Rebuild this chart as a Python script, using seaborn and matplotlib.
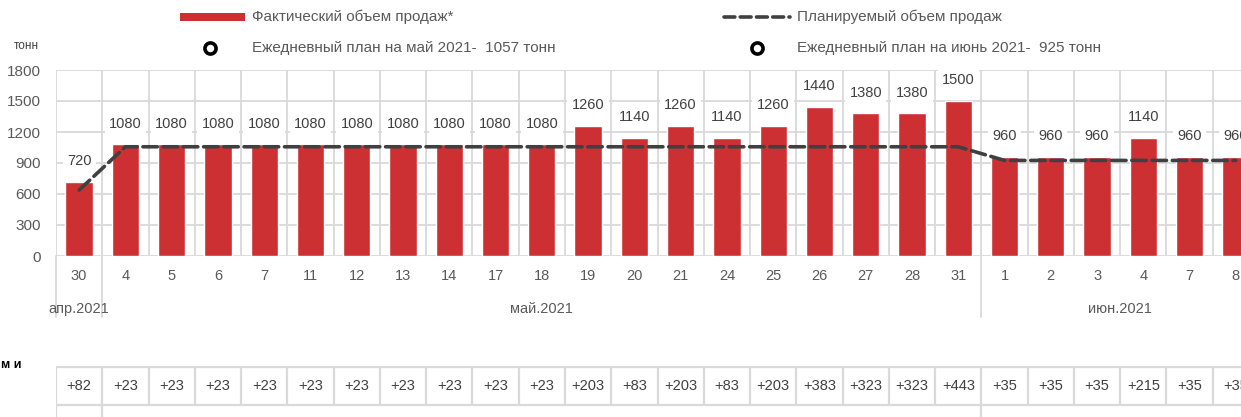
import numpy as np
import pandas as pd
import matplotlib
matplotlib.use("Agg")
import matplotlib.pyplot as plt
import matplotlib.transforms as mtransforms
from matplotlib.lines import Line2D
from matplotlib.patches import Rectangle
import seaborn as sns

# ---------------- data ----------------
keys = ["04-30", "05-04", "05-05", "05-06", "05-07", "05-11", "05-12", "05-13", "05-14",
        "05-17", "05-18", "05-19", "05-20", "05-21", "05-24", "05-25", "05-26", "05-27",
        "05-28", "05-31", "06-01", "06-02", "06-03", "06-04", "06-07", "06-08"]
day_labels = ["30", "4", "5", "6", "7", "11", "12", "13", "14", "17", "18", "19", "20",
              "21", "24", "25", "26", "27", "28", "31", "1", "2", "3", "4", "7", "8"]
fact = [720, 1080, 1080, 1080, 1080, 1080, 1080, 1080, 1080, 1080, 1080, 1260, 1140,
        1260, 1140, 1260, 1440, 1380, 1380, 1500, 960, 960, 960, 1140, 960, 960]
plan = [638, 1057, 1057, 1057, 1057, 1057, 1057, 1057, 1057, 1057, 1057, 1057, 1057,
        1057, 1057, 1057, 1057, 1057, 1057, 1057, 925, 925, 925, 925, 925, 925]
deviation = ["+82", "+23", "+23", "+23", "+23", "+23", "+23", "+23", "+23", "+23", "+23",
             "+203", "+83", "+203", "+83", "+203", "+383", "+323", "+323", "+443",
             "+35", "+35", "+35", "+215", "+35", "+35"]
months = ["апр.2021", "май.2021", "июн.2021"]
month_counts = [1, 19, 6]
y_ticks = [0, 300, 600, 900, 1200, 1500, 1800]

legend_fact = "Фактический объем продаж*"
legend_plan = "Планируемый объем продаж"
legend_may = "Ежедневный план на май 2021-  1057 тонн"
legend_june = "Ежедневный план на июнь 2021-  925 тонн"

# ---------------- style ----------------
sns.set_theme(style="white")
plt.rcParams["font.family"] = ["Liberation Sans", "DejaVu Sans"]

BAR = "#CD3033"
GRID = "#D9D9D9"
TXT = "#595959"
DARK = "#404040"

W, H = 1241, 417
fig = plt.figure(figsize=(W / 100, H / 100), dpi=100)
fig.patch.set_facecolor("white")

def fx(px):
    return px / W

def fy(py):
    return 1 - py / H

ax_left, ax_right = 56, 1259
ax_top, ax_bottom = 70, 256
ax = fig.add_axes([fx(ax_left), 1 - ax_bottom / H, (ax_right - ax_left) / W, (ax_bottom - ax_top) / H])

df = pd.DataFrame({"key": keys, "fact": fact})
n = len(keys)

sns.barplot(data=df, x="key", y="fact", order=keys, color=BAR, saturation=1,
            width=0.59, ax=ax, zorder=2)
sns.lineplot(x=np.arange(n), y=plan, ax=ax, color=DARK, lw=2.6,
             linestyle=(0, (4, 1.6)), zorder=4, solid_capstyle="round",
             dash_capstyle="round")

ax.set_xlim(-0.5, n - 0.5)
ax.set_ylim(0, 1800)
ax.set_yticks(y_ticks)
ax.set_xticks(np.arange(n))
ax.set_xticklabels(day_labels)
ax.set_xlabel("")
ax.set_ylabel("")
ax.tick_params(axis="x", length=0, pad=9, labelsize=10.5, colors=TXT)
ax.tick_params(axis="y", length=0, pad=11, labelsize=11, colors=TXT)
for s in ax.spines.values():
    s.set_visible(False)

# grid lines
ax.set_axisbelow(True)
ax.yaxis.grid(True, color=GRID, lw=1.3, zorder=0)
ax.vlines(np.arange(-0.5, n), 0, 1800, color=GRID, lw=1.3, zorder=0)

# month separators extending below axis & month labels
trans = mtransforms.blended_transform_factory(ax.transData, ax.transAxes)
bounds = [-0.5]
for c in month_counts:
    bounds.append(bounds[-1] + c)
low = -(317 - ax_bottom) / (ax_bottom - ax_top)
for b in bounds[:-1]:
    ax.add_line(Line2D([b, b], [low, 0], transform=trans, color=GRID, lw=1.3, clip_on=False, zorder=0))
lab_y = -(309 - ax_bottom) / (ax_bottom - ax_top)
for m, a, b in zip(months, bounds[:-1], bounds[1:]):
    ax.text((a + b) / 2, lab_y, m, transform=trans, ha="center", va="center",
            fontsize=10.5, color=TXT)

# data labels
for i, v in enumerate(fact):
    ax.annotate(str(v), (i, v), xytext=(0, 15), textcoords="offset points",
                ha="center", va="center", fontsize=10.5, color=DARK, zorder=5,
                bbox=dict(boxstyle="square,pad=0.3", fc="white", ec="none"))

# ---------------- table below ----------------
t_top, t_mid = 366, 405
tax = fig.add_axes([fx(ax_left), 0, (ax_right - ax_left) / W, (H - t_top) / H])
tax.set_xlim(-0.5, n - 0.5)
tax.set_ylim(0, 1)
tax.axis("off")
mid = (H - t_mid) / (H - t_top)
tax.hlines([0.985, mid], -0.5, n - 0.5, color=GRID, lw=1.6)
tax.vlines(np.arange(-0.5, n), mid, 0.985, color=GRID, lw=1.6)
tax.vlines(bounds[:-1], 0, mid, color=GRID, lw=1.6)
for i, d in enumerate(deviation):
    tax.text(i, (0.985 + mid) / 2, d, ha="center", va="center", fontsize=10.5, color=DARK)

fig.text(fx(1), fy(365), "м и", ha="left", va="center", fontsize=9, fontweight="bold", color="black")
fig.text(fx(26), fy(46), "тонн", ha="center", va="center", fontsize=8.5, color=DARK)

# ---------------- legend ----------------
fig.add_artist(Rectangle((fx(180), fy(20.5)), 65 / W, 7 / H, transform=fig.transFigure,
                         color=BAR, lw=0))
fig.text(fx(252), fy(17), legend_fact, ha="left", va="center", fontsize=11, color=TXT)
fig.add_artist(Line2D([fx(724), fx(790)], [fy(17), fy(17)], transform=fig.transFigure,
                      color=DARK, lw=2.6, linestyle=(0, (3, 1.5)), dash_capstyle="round"))
fig.text(fx(797), fy(17), legend_plan, ha="left", va="center", fontsize=11, color=TXT)
for mx, tx, label in [(210, 252, legend_may), (757, 797, legend_june)]:
    fig.add_artist(Line2D([fx(mx)], [fy(48)], transform=fig.transFigure, marker="o",
                          markersize=8, markerfacecolor="white", markeredgecolor="black",
                          markeredgewidth=2.6, linestyle="none"))
    fig.text(fx(tx), fy(48), label, ha="left", va="center", fontsize=11, color=TXT)

fig.savefig("out.png", dpi=100, facecolor="white")
